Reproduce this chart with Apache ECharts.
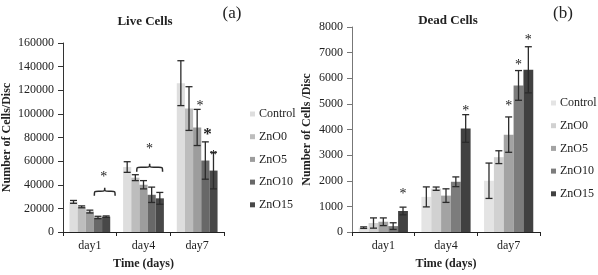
<!DOCTYPE html>
<html>
<head>
<meta charset="utf-8">
<script src="https://cdn.jsdelivr.net/npm/echarts@6/dist/echarts.min.js"></script>
<style>
	html, body { margin: 0; padding: 0; background: #fff; }
	#chart { width: 598px; height: 275px; }
</style>
</head>
<body>
<div id="chart"></div>
<script type="text/javascript">
	var days = ['day1', 'day4', 'day7'];
	var groups = ['Control', 'ZnO0', 'ZnO5', 'ZnO10', 'ZnO15'];

	// live cells, one row per group: day1, day4, day7
	var liveMean = [
		[25500, 55000, 126000],
		[21300, 46000, 104500],
		[17300, 40000, 88500],
		[12300, 31500, 60500],
		[13000, 28500, 52000]
	];
	var liveErr = [
		[1200, 4500, 19000],
		[800, 2500, 18500],
		[1200, 3500, 15300],
		[1000, 6500, 15800],
		[600, 5000, 15500]
	];
	// dead cells
	var deadMean = [
		[170, 1370, 2000],
		[350, 1690, 2920],
		[400, 1420, 3800],
		[230, 1960, 5720],
		[820, 4040, 6330]
	];
	var deadErr = [
		[30, 390, 690],
		[200, 65, 250],
		[150, 265, 690],
		[130, 190, 580],
		[150, 540, 900]
	];

	// significance marks: [day index, bar position, value, font size, bold]
	var liveStars = [[0, 3.7, 48000, 14, 0], [1, 2.75, 72000, 14, 0], [2, 2.35, 108000, 14, 0], [2, 3.28, 84000, 17, 1], [2, 4.0, 66000, 14, 0]];
	var liveBraces = [[0, 2.55, 5.1, 37500], [1, 1.17, 4.34, 57800]];
	var deadStars = [[0, 4, 1540, 14, 0], [1, 4, 4800, 14, 0], [2, 2, 4980, 14, 0], [2, 3, 6590, 14, 0], [2, 4, 7550, 14, 0]];

	var liveColors = ['#dedede', '#bdbdbd', '#9d9d9d', '#686868', '#484848'];
	var deadColors = ['#e4e4e4', '#d1d1d1', '#a3a3a3', '#7c7c7c', '#414141'];
	var liveGap = 0.24;
	var deadGap = 0.215;
	var serif = '"Liberation Serif", "DejaVu Serif", serif';

	function barX(api, cat, pos, gap) {
		var c = api.coord([cat, 0]);
		var bw = api.size([1, 0])[0] * (1 - gap) / groups.length;
		return c[0] + (pos - 2) * bw;
	}

	function errorSeries(mean, err, gap, idx) {
		var data = [];
		for (var g = 0; g < groups.length; g++) {
			for (var d = 0; d < days.length; d++) {
				data.push([d, g, mean[g][d], err[g][d]]);
			}
		}
		return {
			type: 'custom',
			xAxisIndex: idx,
			yAxisIndex: idx,
			z: 5,
			silent: true,
			encode: {x: 0, y: 2},
			data: data,
			renderItem: function (params, api) {
				var x = barX(api, api.value(0), api.value(1), gap);
				var v = api.value(2), e = api.value(3);
				var yt = api.coord([api.value(0), v + e])[1];
				var yb = api.coord([api.value(0), v - e])[1];
				var cap = 3.5;
				var st = {stroke: '#2b2b2b', lineWidth: 1.3};
				return {
					type: 'group',
					children: [
						{type: 'line', shape: {x1: x, y1: yt, x2: x, y2: yb}, style: st},
						{type: 'line', shape: {x1: x - cap, y1: yt, x2: x + cap, y2: yt}, style: st},
						{type: 'line', shape: {x1: x - cap, y1: yb, x2: x + cap, y2: yb}, style: st}
					]
				};
			}
		};
	}

	function starSeries(stars, gap, idx) {
		return {
			type: 'custom',
			xAxisIndex: idx,
			yAxisIndex: idx,
			z: 6,
			silent: true,
			encode: {x: 0, y: 2},
			data: stars,
			renderItem: function (params, api) {
				var x = barX(api, api.value(0), api.value(1), gap);
				var y = api.coord([api.value(0), api.value(2)])[1];
				return {
					type: 'text',
					x: x,
					y: y + 2,
					style: {
						text: '*',
						font: (api.value(4) ? 'bold ' : '') + api.value(3) + 'px ' + serif,
						fill: '#222',
						align: 'center',
						verticalAlign: 'middle'
					}
				};
			}
		};
	}

	function braceSeries(braces, gap, idx) {
		return {
			type: 'custom',
			xAxisIndex: idx,
			yAxisIndex: idx,
			z: 6,
			silent: true,
			encode: {x: 0, y: 3},
			data: braces,
			renderItem: function (params, api) {
				var x0 = barX(api, api.value(0), api.value(1), gap);
				var x1 = barX(api, api.value(0), api.value(2), gap);
				var yt = api.coord([api.value(0), api.value(3)])[1];
				var yb = yt + 8, ym = yt + 3.5, xc = (x0 + x1) / 2, r = 4;
				var p = 'M' + x0 + ' ' + yb + ' C' + x0 + ' ' + ym + ' ' + x0 + ' ' + ym + ' ' + (x0 + r) + ' ' + ym +
					' L' + (xc - r) + ' ' + ym + ' C' + xc + ' ' + ym + ' ' + xc + ' ' + ym + ' ' + xc + ' ' + yt +
					' C' + xc + ' ' + ym + ' ' + xc + ' ' + ym + ' ' + (xc + r) + ' ' + ym +
					' L' + (x1 - r) + ' ' + ym + ' C' + x1 + ' ' + ym + ' ' + x1 + ' ' + ym + ' ' + x1 + ' ' + yb;
				return {
					type: 'path',
					shape: {pathData: p},
					style: {stroke: '#2b2b2b', lineWidth: 1.5, fill: null}
				};
			}
		};
	}

	var series = [];
	groups.forEach(function (name, g) {
		series.push({
			name: name, type: 'bar', xAxisIndex: 0, yAxisIndex: 0,
			data: liveMean[g], barGap: '0%', barCategoryGap: (liveGap * 100) + '%',
			itemStyle: {color: liveColors[g]}
		});
	});
	groups.forEach(function (name, g) {
		series.push({
			name: name, type: 'bar', xAxisIndex: 1, yAxisIndex: 1,
			data: deadMean[g], barGap: '0%', barCategoryGap: (deadGap * 100) + '%',
			itemStyle: {color: deadColors[g]}
		});
	});
	series.push(errorSeries(liveMean, liveErr, liveGap, 0));
	series.push(errorSeries(deadMean, deadErr, deadGap, 1));
	series.push(starSeries(liveStars, liveGap, 0));
	series.push(braceSeries(liveBraces, liveGap, 0));
	series.push(starSeries(deadStars, deadGap, 1));

	function xAxis(idx) {
		return {
			type: 'category', gridIndex: idx, data: days,
			axisLine: {lineStyle: {color: '#222', width: 1}},
			axisTick: {show: true, length: 4, lineStyle: {color: '#222'}},
			axisLabel: {fontFamily: serif, fontSize: 12, color: '#222', margin: 8},
			name: 'Time (days)', nameLocation: 'middle', nameGap: 26,
			nameTextStyle: {fontFamily: serif, fontSize: 12, fontWeight: 'bold', color: '#222'}
		};
	}
	function yAxis(idx, max, step, name, gap, lineColor) {
		return {
			type: 'value', gridIndex: idx, min: 0, max: max, interval: step,
			splitLine: {show: false},
			axisLine: {show: true, lineStyle: {color: lineColor, width: 1}},
			axisTick: {show: true, length: 5, lineStyle: {color: lineColor}},
			axisLabel: {
				fontFamily: serif, fontSize: 12, color: '#222', margin: 9,
				formatter: function (v) { return String(v); }
			},
			name: name, nameLocation: 'middle', nameGap: gap,
			nameTextStyle: {fontFamily: serif, fontSize: 12, fontWeight: 'bold', color: '#222'}
		};
	}
	function legend(left, top, colors) {
		return {
			orient: 'vertical', left: left, top: top,
			itemWidth: 5, itemHeight: 5, itemGap: 8.7, icon: 'rect',
			selectedMode: false,
			textStyle: {fontFamily: serif, fontSize: 12, color: '#222', lineHeight: 14, padding: [0, 0, 0, -1]},
			data: groups.map(function (n, g) {
				return {name: n, itemStyle: {color: colors[g]}};
			})
		};
	}
	function label(text, x, y, size, bold) {
		return {
			type: 'text', x: x, y: y,
			style: {
				text: text, font: (bold ? 'bold ' : '') + size + 'px ' + serif,
				fill: '#222', align: 'center', verticalAlign: 'middle'
			}
		};
	}

	var chart = echarts.init(document.getElementById('chart'));
	chart.setOption({
		animation: false,
		backgroundColor: '#fff',
		grid: [
			{left: 63, top: 43, width: 161, height: 190},
			{left: 352, top: 27, width: 188, height: 207}
		],
		xAxis: [xAxis(0), xAxis(1)],
		yAxis: [
			yAxis(0, 160000, 20000, 'Number of Cells/Disc', 50, '#333'),
			yAxis(1, 8000, 1000, 'Number of Cells /Disc', 39, '#777')
		],
		legend: [legend(245, 102, liveColors), legend(546, 91, deadColors)],
		graphic: [
			label('Live Cells', 145, 22, 13, true),
			label('(a)', 232, 14, 17, false),
			label('Dead Cells', 448, 21, 13, true),
			label('(b)', 563, 14, 17, false)
		],
		series: series
	});
</script>
</body>
</html>
